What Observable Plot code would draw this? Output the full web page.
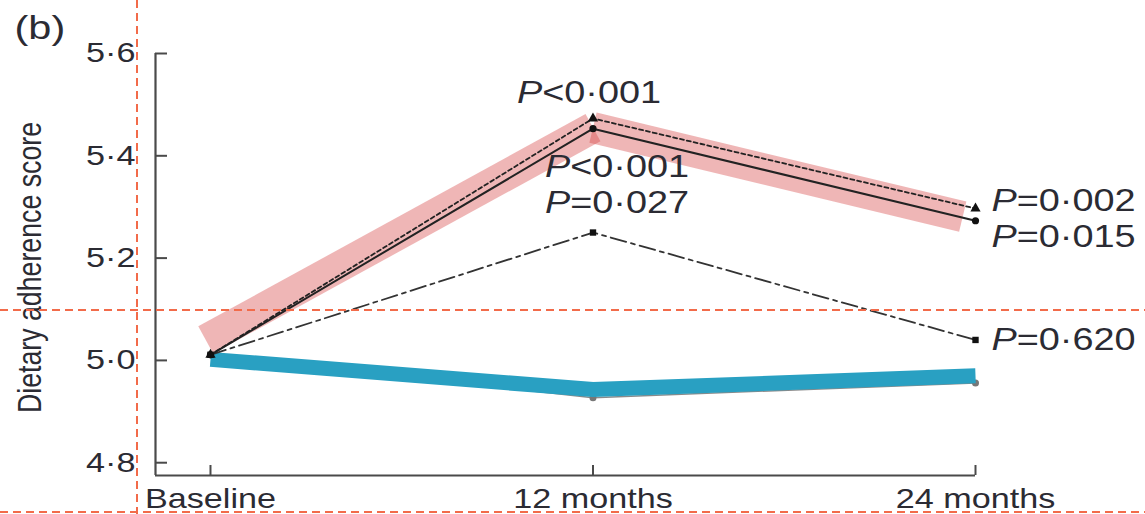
<!DOCTYPE html>
<html><head><meta charset="utf-8">
<script src="https://cdn.jsdelivr.net/npm/d3@7"></script>
<script src="https://cdn.jsdelivr.net/npm/@observablehq/plot@0.6"></script>
<style>
body{margin:0;background:#fff;}
#wrap{position:relative;width:1145px;height:514px;overflow:hidden;background:#fff;}
#overlay{position:absolute;left:0;top:0;pointer-events:none;}
</style></head><body><div id="wrap"></div>
<script>
// ---- data ----
const months = [0, 12, 24];
const monthLabels = ["Baseline", "12 months", "24 months"];
const yTicks = [4.8, 5.0, 5.2, 5.4, 5.6];
const solidValues = [5.011, 5.453, 5.273];
const shortDashValues = [5.011, 5.473, 5.297];
const dashDotValues = [5.011, 5.250, 5.040];
const greyValues = [5.011, 4.927, 4.956];
const blueValues = [5.002, 4.943, 4.970];
const bandMonths = [-0.15, 12, 23.6];
const bandValues = [5.040, 5.455, 5.281];
const pLabels = ["P<0·001", "P<0·001", "P=0·027", "P=0·002", "P=0·015", "P=0·620"];
const pMonths = [12, 12, 12, 24, 24, 24];
const pValues = [shortDashValues[1], solidValues[1], dashDotValues[1], shortDashValues[2], solidValues[2], dashDotValues[2]];
const yLabel = "Dietary adherence score";
const panelLabel = "(b)";

// ---- helpers ----
const rows = vals => months.map((m, i) => ({m, v: vals[i]}));
const bandSegments = [0, 1].map(i => ({x1: bandMonths[i], y1: bandValues[i], x2: bandMonths[i + 1], y2: bandValues[i + 1]}));
const labelStyle = [
  {dx: -4, dy: -25, textAnchor: "middle"},
  {dx: 24, dy: 38, textAnchor: "middle"},
  {dx: 24, dy: -29, textAnchor: "middle"},
  {dx: 16, dy: -7, textAnchor: "start"},
  {dx: 16, dy: 16, textAnchor: "start"},
  {dx: 16, dy: 0, textAnchor: "start"}
];
const ink = "#2b2b33";

const chart = Plot.plot({
  width: 1145, height: 514,
  marginLeft: 155, marginRight: 170, marginTop: 53, marginBottom: 39,
  x: {domain: [-1.725, 24], label: null},
  y: {domain: [4.775, 5.6], label: null},
  style: {fontFamily: "'Liberation Sans', Arial, sans-serif", fontSize: "28px", background: "white", color: ink},
  marks: [
    // pink band
    Plot.link(bandSegments, {x1: "x1", y1: "y1", x2: "x2", y2: "y2", stroke: "rgb(214,62,62)", strokeOpacity: 0.38, strokeWidth: 31, strokeLinecap: "butt"}),
    // grey series under blue
    Plot.line(rows(greyValues), {x: "m", y: "v", stroke: "#8a8a8a", strokeWidth: 1.5}),
    Plot.dot(rows(greyValues).slice(1), {x: "m", y: "v", r: 3.5, fill: "#777"}),
    // blue thick
    Plot.line(rows(blueValues), {x: "m", y: "v", stroke: "#29a0c2", strokeWidth: 15, strokeLinecap: "butt", strokeLinejoin: "miter"}),
    // dash-dot series
    Plot.line(rows(dashDotValues), {x: "m", y: "v", stroke: "#333", strokeWidth: 1.8, strokeDasharray: "16,5,4,5"}),
    Plot.dot(rows(dashDotValues), {x: "m", y: "v", symbol: "square", r: 3.6, fill: "#111"}),
    // short dash series
    Plot.line(rows(shortDashValues), {x: "m", y: "v", stroke: "#222", strokeWidth: 1.8, strokeDasharray: "4,3"}),
    Plot.dot(rows(shortDashValues), {x: "m", y: "v", symbol: "triangle", r: 3.8, fill: "#111"}),
    // solid series
    Plot.line(rows(solidValues), {x: "m", y: "v", stroke: "#222", strokeWidth: 2}),
    Plot.dot(rows(solidValues), {x: "m", y: "v", symbol: "circle", r: 3.6, fill: "#111"}),
    // axes
    Plot.ruleX([-1.725], {stroke: "#4a4a4a", strokeWidth: 2.2}),
    Plot.ruleY([4.775], {stroke: "#4a4a4a", strokeWidth: 2.2}),
    Plot.axisY({ticks: yTicks, tickFormat: d => d.toFixed(1).replace(".", "·"), tickSize: -12, tickPadding: 32, stroke: "#4a4a4a", strokeWidth: 2, fontSize: 28, fill: ink, label: null}),
    Plot.axisX({ticks: months, tickFormat: d => monthLabels[months.indexOf(d)], tickSize: -10, tickPadding: 23, stroke: "#4a4a4a", strokeWidth: 2, fontSize: 28, fill: ink, label: null}),
    // p-value annotations
    ...pLabels.map((t, i) => Plot.text([i], {x: j => pMonths[j], y: j => pValues[j], text: j => pLabels[j], fontSize: 31, fill: ink, ...labelStyle[i]})),
    // y label and panel label
    Plot.text([yLabel], {text: d => d, frameAnchor: "left", textAnchor: "middle", lineAnchor: "middle", rotate: -90, dx: -125, dy: 3, fontSize: 33, fill: ink}),
    Plot.text([panelLabel], {text: d => d, frameAnchor: "top-left", textAnchor: "start", lineAnchor: "middle", dx: -141, dy: -25, fontSize: 34, fill: ink})
  ]
});

const wrap = document.getElementById("wrap");
wrap.appendChild(chart);
const ns = "http://www.w3.org/2000/svg";
chart.querySelectorAll("text").forEach(t => {
  const s = t.textContent;
  if (/^P[<=]/.test(s)) {
    t.textContent = "";
    const a = document.createElementNS(ns, "tspan");
    a.setAttribute("font-style", "italic");
    a.textContent = "P";
    const b = document.createElementNS(ns, "tspan");
    b.textContent = s.slice(1);
    t.appendChild(a); t.appendChild(b);
  }
});
chart.querySelectorAll("text").forEach(t => {
  const L = t.getComputedTextLength();
  if (!L) return;
  const f = t.textContent === yLabel ? 0.81 : 1.22;
  t.setAttribute("textLength", (L * f).toFixed(1));
  t.setAttribute("lengthAdjust", "spacingAndGlyphs");
});

// guide lines present in the reference image
const ov = document.createElementNS(ns, "svg");
ov.setAttribute("id", "overlay");
ov.setAttribute("width", 1145); ov.setAttribute("height", 514);
[[137, 0, 137, 514], [0, 310, 1145, 310], [0, 512, 1145, 512]].forEach(([x1, y1, x2, y2]) => {
  const l = document.createElementNS(ns, "line");
  l.setAttribute("x1", x1); l.setAttribute("y1", y1); l.setAttribute("x2", x2); l.setAttribute("y2", y2);
  l.setAttribute("stroke", "#f26b4a"); l.setAttribute("stroke-width", 2); l.setAttribute("stroke-dasharray", "8,5");
  ov.appendChild(l);
});
wrap.appendChild(ov);
</script></body></html>
